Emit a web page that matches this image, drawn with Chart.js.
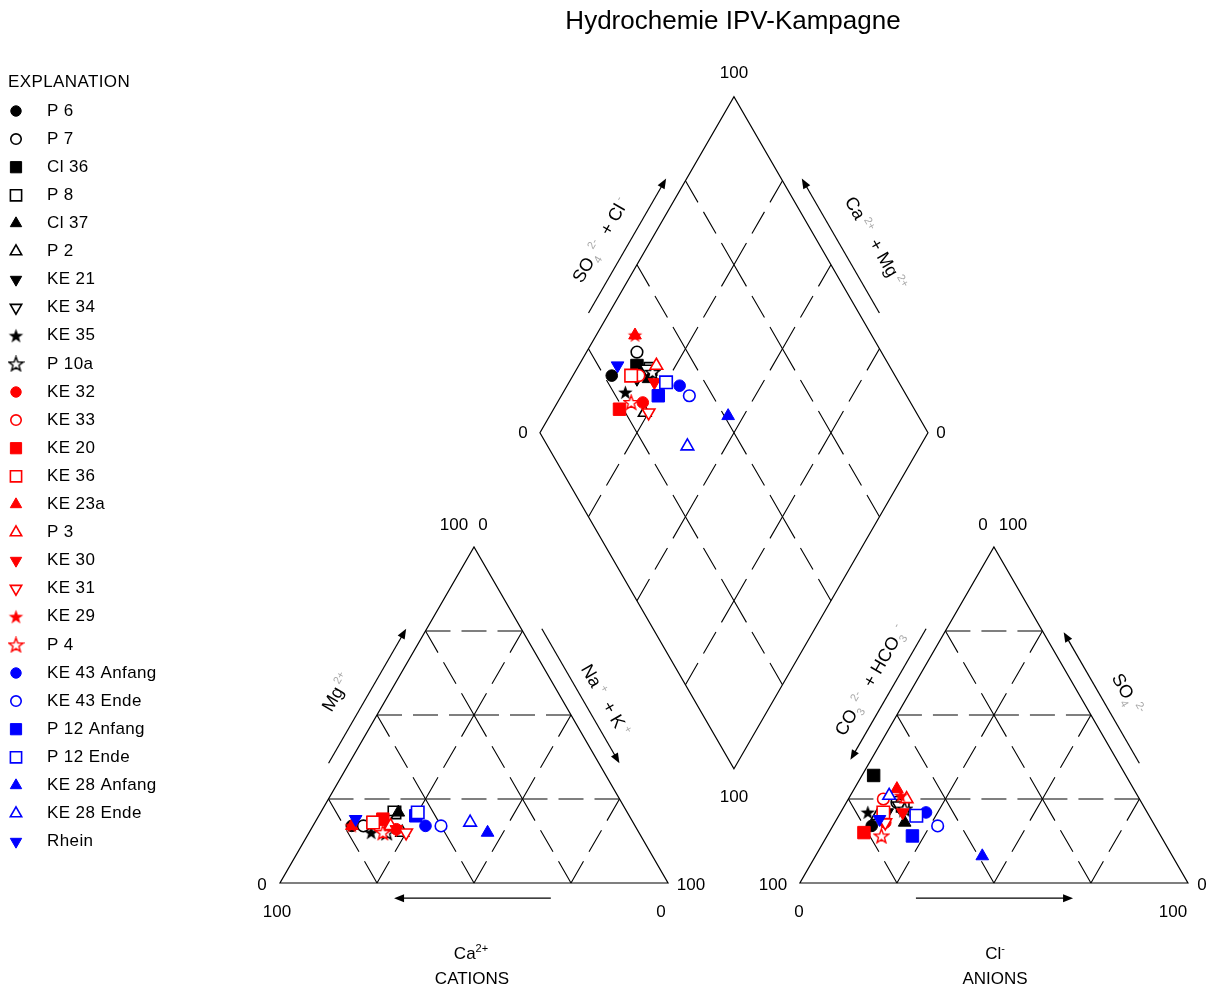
<!DOCTYPE html>
<html><head><meta charset="utf-8">
<script src="https://cdn.jsdelivr.net/npm/chart.js@4.4.0/dist/chart.umd.min.js"></script>
<style>html,body{margin:0;padding:0;background:#fff}</style>
</head><body>
<canvas id="c" width="1211" height="989"></canvas>
<script>
// ---------------- data (percent of meq) ----------------
const sampleNames = ['P 6','P 7','Cl 36','P 8','Cl 37','P 2','KE 21','KE 34','KE 35','P 10a','KE 32','KE 33','KE 20','KE 36','KE 23a','P 3','KE 30','KE 31','KE 29','P 4','KE 43 Anfang','KE 43 Ende','P 12 Anfang','P 12 Ende','KE 28 Anfang','KE 28 Ende','Rhein'];
const caPct   = [73,70,67,60,59,61,66,63,69,65,62,66,64,67,73,63,62,60,73,66,54,50,55,54,39,42,71];
const mgPct   = [17,17,18,21,21,15,17,19,15,15,16,17,19,18,17,17,16,15,17,15,17,17,20,21,15,18,19];
const naKPct  = [10,13,15,19,20,24,17,18,16,20,22,17,17,15,10,20,22,25,10,19,29,33,25,25,46,40,10];
const clPct   = [10,13, 3,15,18,10,12,14, 7,16,13, 9, 9,11,11,15,16,13,13,14,22,27,22,20,43,10,11];
const so4Pct  = [17,24,32,23,18,20,21,23,21,22,18,25,15,21,28,25,21,18,26,14,21,17,14,20, 8,26,19];
const hco3Pct = [73,63,65,62,64,70,67,63,72,62,69,66,76,68,61,60,63,69,61,72,57,56,64,60,49,64,70];
const axisTickLabels = ['0','100'];
const chartTitle = 'Hydrochemie IPV-Kampagne';
const legendTitle = 'EXPLANATION';

// ---------------- styles ----------------
const markerShape = ['circle','circle','rect','rect','triangle','triangle','down','down','star','star',
                     'circle','circle','rect','rect','triangle','triangle','down','down','star','star',
                     'circle','circle','rect','rect','triangle','triangle','down'];
const markerFilled = markerShape.map((s,i)=> i%2===0);
const markerColor = sampleNames.map((s,i)=> i<10 ? '#000000' : (i<20 ? '#ff0000' : '#0000ff'));

const FONT = '"Liberation Sans", Arial, Helvetica, sans-serif';
const S3 = Math.sqrt(3)/2;
const SIDE = 100, GAP = 34;
const AX0 = SIDE + GAP;                        // anion triangle left vertex (x)
const DBOT = {u: SIDE + GAP/2, v: GAP/2*Math.sqrt(3)};   // diamond bottom vertex

function catXY(ca, mg, na){ const t=ca+mg+na; mg=mg*100/t; na=na*100/t; return {x: na + mg/2, y: mg*S3}; }
function anXY(hco3, so4, cl){ const t=hco3+so4+cl; so4=so4*100/t; cl=cl*100/t; return {x: AX0 + cl + so4/2, y: so4*S3}; }
function diaXY(S, C){ return {x: DBOT.u + (S - C)/2, y: DBOT.v + (S + C)*S3}; }

function makeStar(color, filled){
  const s=17, c=document.createElement('canvas'); c.width=s; c.height=s;
  const g=c.getContext('2d'); g.beginPath();
  for(let k=0;k<10;k++){ const r = k%2 ? 3.1 : 7.6; const a = -Math.PI/2 + k*Math.PI/5; g.lineTo(8.5+r*Math.cos(a), 9+r*Math.sin(a)); }
  g.closePath();
  if(filled){ g.fillStyle=color; g.fill(); }
  else { g.fillStyle='#fff'; g.fill(); g.strokeStyle=color; g.lineWidth=1.4; g.stroke(); }
  return c;
}
function pointOpts(i){
  const sh=markerShape[i], col=markerColor[i], f=markerFilled[i];
  const o={color:col, fill: f?col:'#ffffff', bw: f?1:1.6, rot:0, style:sh, radius:5.8};
  if(sh==='rect'){o.radius=8.8;}
  else if(sh==='triangle'){o.radius=7.3; o.style='triangle';}
  else if(sh==='down'){o.radius=7.3; o.style='triangle'; o.rot=180;}
  else if(sh==='star'){o.style=makeStar(col,f); o.radius=7;}
  return o;
}

const N = sampleNames.length;
const datasets = sampleNames.map((name,i)=>{
  const o=pointOpts(i);
  return {
    label:name,
    data:[ catXY(caPct[i], mgPct[i], naKPct[i]),
           anXY(hco3Pct[i], so4Pct[i], clPct[i]),
           diaXY(100*(so4Pct[i]+clPct[i])/(so4Pct[i]+clPct[i]+hco3Pct[i]), 100*(caPct[i]+mgPct[i])/(caPct[i]+mgPct[i]+naKPct[i])) ],
    showLine:false,
    pointStyle:o.style, pointRadius:o.radius, pointRotation:o.rot,
    backgroundColor:o.fill, borderColor:o.color, borderWidth:o.bw,
    pointHoverRadius:o.radius,
    order: N - i
  };
});

// ---------------- drawing helpers ----------------
function rich(ctx, parts, cx, cy, ang, size, subCol){
  ctx.save(); ctx.translate(cx,cy); ctx.rotate(ang*Math.PI/180);
  let w=0;
  const it=parts.map(([t,k])=>{ const sz = k ? Math.round(size*0.62) : size; ctx.font = sz+'px '+FONT; const mw=ctx.measureText(t).width; w+=mw; return {t,k,sz,mw}; });
  let x=-w/2; ctx.textAlign='left'; ctx.textBaseline='alphabetic';
  for(const p of it){
    ctx.font = p.sz+'px '+FONT; ctx.fillStyle = p.k ? subCol : '#000';
    const dy = p.k===1 ? size*0.28 : (p.k===2 ? -size*0.42 : 0);
    ctx.fillText(p.t, x, size*0.36 + dy); x+=p.mw;
  }
  ctx.restore();
}

const framePlugin = {
  id:'piperFrame',
  beforeDatasetsDraw(chart){
    const ctx=chart.ctx, xs=chart.scales.x, ys=chart.scales.y;
    const P=(u,v)=>[xs.getPixelForValue(u), ys.getPixelForValue(v)];
    const cat=(ca,mg,na)=>{const q=catXY(ca,mg,na); return [q.x,q.y];};
    const an=(h,s,c)=>{const q=anXY(h,s,c); return [q.x,q.y];};
    const dia=(S,C)=>{const q=diaXY(S,C); return [q.x,q.y];};
    ctx.save();
    ctx.strokeStyle='#000'; ctx.lineWidth=1.2; ctx.lineCap='butt';
    // outlines
    const poly=(pts)=>{ctx.setLineDash([]); ctx.beginPath(); pts.forEach((q,k)=>{const p=P(q[0],q[1]); k?ctx.lineTo(p[0],p[1]):ctx.moveTo(p[0],p[1]);}); ctx.closePath(); ctx.stroke();};
    poly([cat(100,0,0),cat(0,0,100),cat(0,100,0)]);
    poly([an(100,0,0),an(0,0,100),an(0,100,0)]);
    poly([dia(0,0),dia(100,0),dia(100,100),dia(0,100)]);
    // dashed grid
    const seg=(a,b)=>{const A=P(a[0],a[1]),B=P(b[0],b[1]); const L=Math.hypot(B[0]-A[0],B[1]-A[1]); const g=11,n=3; const d=(L-(n-1)*g)/n;
      ctx.setLineDash([d,g]); ctx.beginPath(); ctx.moveTo(A[0],A[1]); ctx.lineTo(B[0],B[1]); ctx.stroke();};
    const gl=(a,b,n)=>{for(let k=0;k<n;k++){const t0=k/n,t1=(k+1)/n; seg([a[0]+(b[0]-a[0])*t0,a[1]+(b[1]-a[1])*t0],[a[0]+(b[0]-a[0])*t1,a[1]+(b[1]-a[1])*t1]);}};
    ctx.lineWidth=1.1;
    for(const k of [25,50,75]){
      const n=(100-k)/25;
      gl(cat(100-k,k,0),cat(0,k,100-k),n); gl(cat(100-k,0,k),cat(0,100-k,k),n); gl(cat(k,0,100-k),cat(k,100-k,0),n);
      gl(an(100-k,k,0),an(0,k,100-k),n); gl(an(100-k,0,k),an(0,100-k,k),n); gl(an(k,0,100-k),an(k,100-k,0),n);
      gl(dia(k,0),dia(k,100),4); gl(dia(0,k),dia(100,k),4);
    }
    ctx.setLineDash([]);
    // arrows
    const arrow=(a,b)=>{const A=P(a[0],a[1]),B=P(b[0],b[1]); const ang=Math.atan2(B[1]-A[1],B[0]-A[0]);
      ctx.lineWidth=1.2; ctx.beginPath(); ctx.moveTo(A[0],A[1]); ctx.lineTo(B[0]-Math.cos(ang)*6,B[1]-Math.sin(ang)*6); ctx.stroke();
      ctx.beginPath(); ctx.moveTo(B[0],B[1]); ctx.lineTo(B[0]-10*Math.cos(ang)+4*Math.sin(ang),B[1]-10*Math.sin(ang)-4*Math.cos(ang));
      ctx.lineTo(B[0]-10*Math.cos(ang)-4*Math.sin(ang),B[1]-10*Math.sin(ang)+4*Math.cos(ang)); ctx.closePath(); ctx.fillStyle='#000'; ctx.fill();};
    const sideArrow=(A,B,t0,t1,nx,ny,off)=>{arrow([A[0]+(B[0]-A[0])*t0+nx*off, A[1]+(B[1]-A[1])*t0+ny*off],[A[0]+(B[0]-A[0])*t1+nx*off, A[1]+(B[1]-A[1])*t1+ny*off]);};
    const off=4.6;
    sideArrow(cat(100,0,0),cat(0,100,0),0.33,0.73,-S3,0.5,off);
    sideArrow(cat(0,0,100),cat(0,100,0),0.73,0.33,S3,0.5,off);
    arrow([69.8,-3.9],[29.4,-3.9]);
    sideArrow(an(100,0,0),an(0,100,0),0.73,0.34,-S3,0.5,off);
    sideArrow(an(0,0,100),an(0,100,0),0.33,0.72,S3,0.5,off);
    arrow([AX0+29.9,-3.9],[AX0+70.4,-3.9]);
    sideArrow(dia(0,100),dia(100,100),0.33,0.73,-S3,0.5,off);
    sideArrow(dia(100,0),dia(100,100),0.33,0.73,S3,0.5,off);

    // numbers
    ctx.fillStyle='#000'; ctx.font='17px '+FONT; ctx.textBaseline='middle'; ctx.textAlign='center';
    const T=(s,q,dx,dy)=>{const p=P(q[0],q[1]); ctx.fillText(s,p[0]+dx,p[1]+dy);};
    const Z=axisTickLabels[0], H=axisTickLabels[1];
    T(Z,cat(100,0,0),-18,2); T(H,cat(100,0,0),-3,29); T(H,cat(0,0,100),23,2); T(Z,cat(0,0,100),-7,29);
    T(H,cat(0,100,0),-20,-22); T(Z,cat(0,100,0),9,-22);
    T(H,an(100,0,0),-27,2); T(Z,an(100,0,0),-1,29); T(Z,an(0,0,100),14,2); T(H,an(0,0,100),-15,29);
    T(Z,an(0,100,0),-11,-22); T(H,an(0,100,0),19,-22);
    T(H,dia(100,100),0,-23); T(Z,dia(0,100),-17,1); T(Z,dia(100,0),13,1); T(H,dia(0,0),0,29);

    // axis labels
    const g='#a8a8a8';
    rich(ctx,[['SO',0],['4',1],[' 2-',2],['  + Cl',0],[' -',2]],600,240,-60,18,g);
    rich(ctx,[['Ca',0],[' 2+',2],['  + Mg',0],[' 2+',2]],876,243,60,18,g);
    rich(ctx,[['Mg',0],[' 2+',2]],336,692,-60,18,g);
    rich(ctx,[['Na',0],[' +',2],['  + K',0],[' +',2]],606,700,60,18,g);
    rich(ctx,[['CO',0],['3',1],[' 2-',2],['  + HCO',0],['3',1],[' -',2]],870,680,-60,18,g);
    rich(ctx,[['SO',0],['4',1],[' 2-',2]],1128,694,60,18,g);
    rich(ctx,[['Ca',0],['2+',2]],471,953,0,17,'#000');
    rich(ctx,[['Cl',0],['-',2]],995,953,0,17,'#000');
    ctx.font='17px '+FONT; ctx.textAlign='center'; ctx.textBaseline='middle'; ctx.fillStyle='#000';
    ctx.fillText('CATIONS',472,979); ctx.fillText('ANIONS',995,979);

    // title
    ctx.font='26px '+FONT; ctx.fillText(chartTitle,733,22);

    // legend
    ctx.textAlign='left'; ctx.font='17px '+FONT;
    ctx.letterSpacing='0.4px';
    ctx.fillText(legendTitle,8,82);
    for(let i=0;i<N;i++){
      const y=111+28.1*i, o=pointOpts(i);
      ctx.fillStyle='#000'; ctx.fillText(sampleNames[i],47,y);
      ctx.save(); ctx.fillStyle=o.fill; ctx.strokeStyle=o.color; ctx.lineWidth=o.bw;
      Chart.helpers.drawPoint(ctx,{pointStyle:o.style,radius:o.radius*0.9,rotation:o.rot,borderWidth:o.bw},16,y);
      ctx.restore();
    }
    ctx.letterSpacing='0px';
    ctx.restore();
  }
};

new Chart(document.getElementById('c'),{
  type:'scatter',
  data:{datasets},
  options:{
    responsive:false, animation:false, devicePixelRatio:1,
    layout:{padding:0, autoPadding:false},
    scales:{
      x:{type:'linear', min:-280/3.88, max:(1211-280)/3.88, display:false},
      y:{type:'linear', min:-(989-883)/3.88, max:883/3.88, display:false}
    },
    plugins:{legend:{display:false}, tooltip:{enabled:false}, title:{display:false}}
  },
  plugins:[framePlugin]
});
</script>
</body></html>
